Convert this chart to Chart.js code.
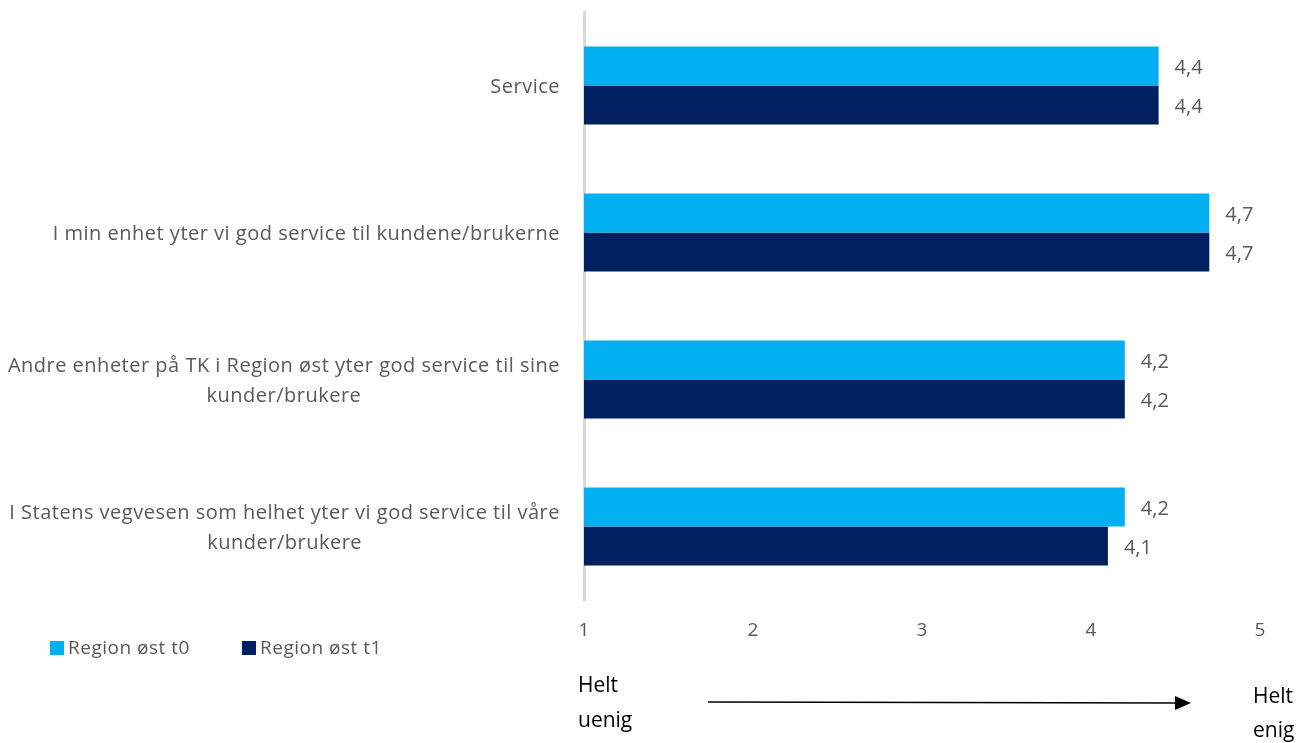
<!DOCTYPE html>
<html>
<head>
<meta charset="utf-8">
<script src="https://cdn.jsdelivr.net/npm/chart.js@4/dist/chart.umd.min.js"></script>
<style>
	html, body { margin: 0; padding: 0; background: #fff; }
	#wrap { width: 1303px; height: 743px; position: relative; }
</style>
</head>
<body>
<div id="wrap"><canvas id="chart"></canvas></div>
<script>
'use strict';

// Survey statements and mean scores
var categories = [
	['Service'],
	['I min enhet yter vi god service til kundene/brukerne'],
	['Andre enheter på TK i Region øst yter god service til sine', 'kunder/brukere'],
	['I Statens vegvesen som helhet yter vi god service til våre', 'kunder/brukere']
];
var seriesNames = ['Region øst t0', 'Region øst t1'];
var valuesT0 = [4.4, 4.7, 4.2, 4.2];
var valuesT1 = [4.4, 4.7, 4.2, 4.1];
var xTicks = [1, 2, 3, 4, 5];
var scaleEnds = [['Helt', 'uenig'], ['Helt', 'enig']];

var colors = ['#00B0F0', '#002060'];
var textGray = '#595959';
var fontFamily = '"Open Sans", Lato, sans-serif';

function fmt(v) {
	return v.toFixed(1).replace('.', ',');
}

// Category labels: right edge of widest line at a fixed x, lines centred inside the block
var categoryLabels = {
	id: 'categoryLabels',
	afterDraw: function(chart) {
		var c = chart.ctx;
		var yScale = chart.scales.y;
		var right = yScale.right - 24;
		var lh = 30;
		c.save();
		c.font = '20px ' + fontFamily;
		c.letterSpacing = '0.5px';
		c.fillStyle = textGray;
		c.textAlign = 'center';
		c.textBaseline = 'middle';
		categories.forEach(function(lines, i) {
			var w = 0;
			lines.forEach(function(l) { w = Math.max(w, c.measureText(l).width); });
			var cx = right - w / 2;
			var cy = yScale.getPixelForTick(i) + 2 - (lines.length - 1) * lh / 2;
			lines.forEach(function(l, k) {
				c.fillText(l, cx, cy + k * lh);
			});
		});
		c.restore();
	}
};

// Value labels at the end of each bar
var valueLabels = {
	id: 'valueLabels',
	afterDatasetsDraw: function(chart) {
		var c = chart.ctx;
		c.save();
		c.font = '20px ' + fontFamily;
		c.fillStyle = textGray;
		c.textAlign = 'left';
		c.textBaseline = 'middle';
		chart.data.datasets.forEach(function(ds, di) {
			chart.getDatasetMeta(di).data.forEach(function(bar, i) {
				c.fillText(fmt(ds.data[i]), bar.x + 16, bar.y + 2);
			});
		});
		c.restore();
	}
};

// Legend row and the disagree -> agree arrow under the axis
var footer = {
	id: 'footer',
	afterDraw: function(chart) {
		var c = chart.ctx;
		var xScale = chart.scales.x;
		c.save();
		c.font = '19px ' + fontFamily;
		c.letterSpacing = '0.5px';
		c.textBaseline = 'middle';
		var lx = 50;
		chart.data.datasets.forEach(function(ds, di) {
			c.fillStyle = ds.backgroundColor;
			c.fillRect(lx, 641, 14, 14);
			c.fillStyle = textGray;
			c.fillText(ds.label, lx + 18, 649);
			lx += 192;
		});

		c.font = '21px ' + fontFamily;
		c.letterSpacing = '0px';
		c.fillStyle = '#000';
		c.textAlign = 'left';
		var x0 = xScale.getPixelForValue(xTicks[0]) - 6;
		var x1 = xScale.getPixelForValue(xTicks[xTicks.length - 1]) - 7;
		c.fillText(scaleEnds[0][0], x0, 686);
		c.fillText(scaleEnds[0][1], x0, 721);
		c.fillText(scaleEnds[1][0], x1, 697);
		c.fillText(scaleEnds[1][1], x1, 731);

		c.strokeStyle = '#000';
		c.lineWidth = 1.5;
		c.beginPath();
		c.moveTo(708, 702);
		c.lineTo(1178, 703);
		c.stroke();
		c.fillStyle = '#000';
		c.beginPath();
		c.moveTo(1191, 703);
		c.lineTo(1175, 696);
		c.lineTo(1175, 710);
		c.closePath();
		c.fill();
		c.restore();
	}
};

new Chart(document.getElementById('chart'), {
	type: 'bar',
	data: {
		labels: categories,
		datasets: [
			{ label: seriesNames[0], data: valuesT0, backgroundColor: colors[0] },
			{ label: seriesNames[1], data: valuesT1, backgroundColor: colors[1] }
		]
	},
	options: {
		indexAxis: 'y',
		responsive: true,
		maintainAspectRatio: false,
		animation: false,
		layout: {
			padding: { left: 0, right: 43, top: 12, bottom: 103 }
		},
		datasets: {
			bar: {
				categoryPercentage: 0.53,
				barPercentage: 1,
				base: 1
			}
		},
		plugins: {
			legend: { display: false },
			tooltip: { enabled: false }
		},
		scales: {
			x: {
				min: 1,
				max: 5,
				afterBuildTicks: function(scale) {
					scale.ticks = xTicks.map(function(v) { return { value: v }; });
				},
				afterFit: function(scale) { scale.height = 40; },
				grid: { display: false, drawTicks: false },
				border: { display: false },
				ticks: {
					padding: 19,
					color: textGray,
					font: { family: fontFamily, size: 19 }
				}
			},
			y: {
				afterFit: function(scale) { scale.width = 584; },
				grid: { display: false, drawTicks: false },
				border: { display: true, color: '#D9D9D9', width: 3 },
				ticks: { display: false }
			}
		}
	},
	plugins: [categoryLabels, valueLabels, footer]
});
</script>
</body>
</html>
